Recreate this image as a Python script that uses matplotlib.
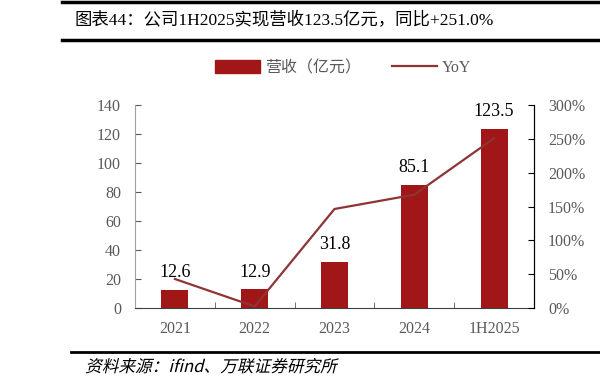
import matplotlib
matplotlib.use('Agg')
import matplotlib.pyplot as plt
from matplotlib.lines import Line2D
from matplotlib.patches import Patch, PathPatch
from matplotlib.textpath import TextPath
from matplotlib.font_manager import FontProperties
from matplotlib.transforms import Affine2D

plt.rcParams['font.family'] = ['Liberation Serif', 'Noto Sans CJK SC']

years = ['2021', '2022', '2023', '2024', '1H2025']
revenue = [12.6, 12.9, 31.8, 85.1, 123.5]
yoy = [43.0, 2.4, 146.5, 167.6, 251.0]

bar_color = '#A11616'
line_color = '#8E3434'
gray = '#595959'

fig = plt.figure(figsize=(6, 3.88), dpi=100)
ax = fig.add_axes([0.225, 0.206, 0.665, 0.523])
ax2 = ax.twinx()

x = list(range(len(years)))
ax.bar(x, revenue, width=0.34, color=bar_color, zorder=2)
for xi, v in zip(x, revenue):
    ax.text(xi, v + 6, f'{v:.1f}', ha='center', va='bottom', fontsize=13, color='black')

ax2.plot(x, yoy, color=line_color, lw=1.6, zorder=3)

ax.set_xlim(-0.5, len(years) - 0.5)
ax.set_ylim(0, 140)
ax.set_yticks(range(0, 141, 20))
ax2.set_ylim(0, 300)
ax2.set_yticks(range(0, 301, 50))
ax2.set_yticklabels([f'{t}%' for t in range(0, 301, 50)])

ax.set_xticks(x)
ax.set_xticklabels(years)
ax.set_xticks([i + 0.5 for i in x[:-1]], minor=True)
ax.tick_params(axis='x', which='major', length=0, pad=9, labelsize=11.5, labelcolor=gray)
ax.tick_params(axis='x', which='minor', direction='in', length=4, color=gray)
ax.tick_params(axis='y', direction='in', length=4, color=gray, labelsize=11.5, labelcolor=gray, pad=10)
ax2.tick_params(axis='y', direction='in', length=4, color='black', labelsize=11.5, labelcolor=gray, pad=10)

for a in (ax, ax2):
    a.spines['top'].set_visible(False)
ax.spines['left'].set_color('#A0A0A0')
ax.spines['bottom'].set_color('#404040')
ax2.spines['left'].set_visible(False)
ax2.spines['bottom'].set_visible(False)
ax2.spines['right'].set_color('black')

handles = [Patch(color=bar_color), Line2D([0], [0], color=line_color, lw=1.6)]
fig.legend(handles, ['营收（亿元）', 'YoY'], loc='center', bbox_to_anchor=(0.572, 0.825),
           ncol=2, frameon=False, fontsize=11.5, labelcolor=gray,
           handlelength=2.8, handleheight=0.9, columnspacing=2.0, handletextpad=0.3)

fig.add_artist(Line2D([0.103, 1.0], [0.994, 0.994], color='black', lw=2.5))
fig.add_artist(Line2D([0.103, 1.0], [0.898, 0.898], color='black', lw=2.5))
fig.text(0.125, 0.947, '图表44：公司1H2025实现营收123.5亿元，同比+251.0%',
         fontsize=12.5, va='center', ha='left', color='black')

fig.add_artist(Line2D([0.118, 1.0], [0.093, 0.093], color='black', lw=2))

# source line, slanted like the reference
src = '资料来源：ifind、万联证券研究所'
tp = TextPath((0, 0), src, prop=FontProperties(family=['Noto Sans CJK SC'], size=12))
tr = Affine2D().skew_deg(14, 0).scale(100 / 72).translate(85, 388 - 372)
fig.add_artist(PathPatch(tp, transform=tr, color='black', lw=0))

fig.savefig('out.png', dpi=100)
